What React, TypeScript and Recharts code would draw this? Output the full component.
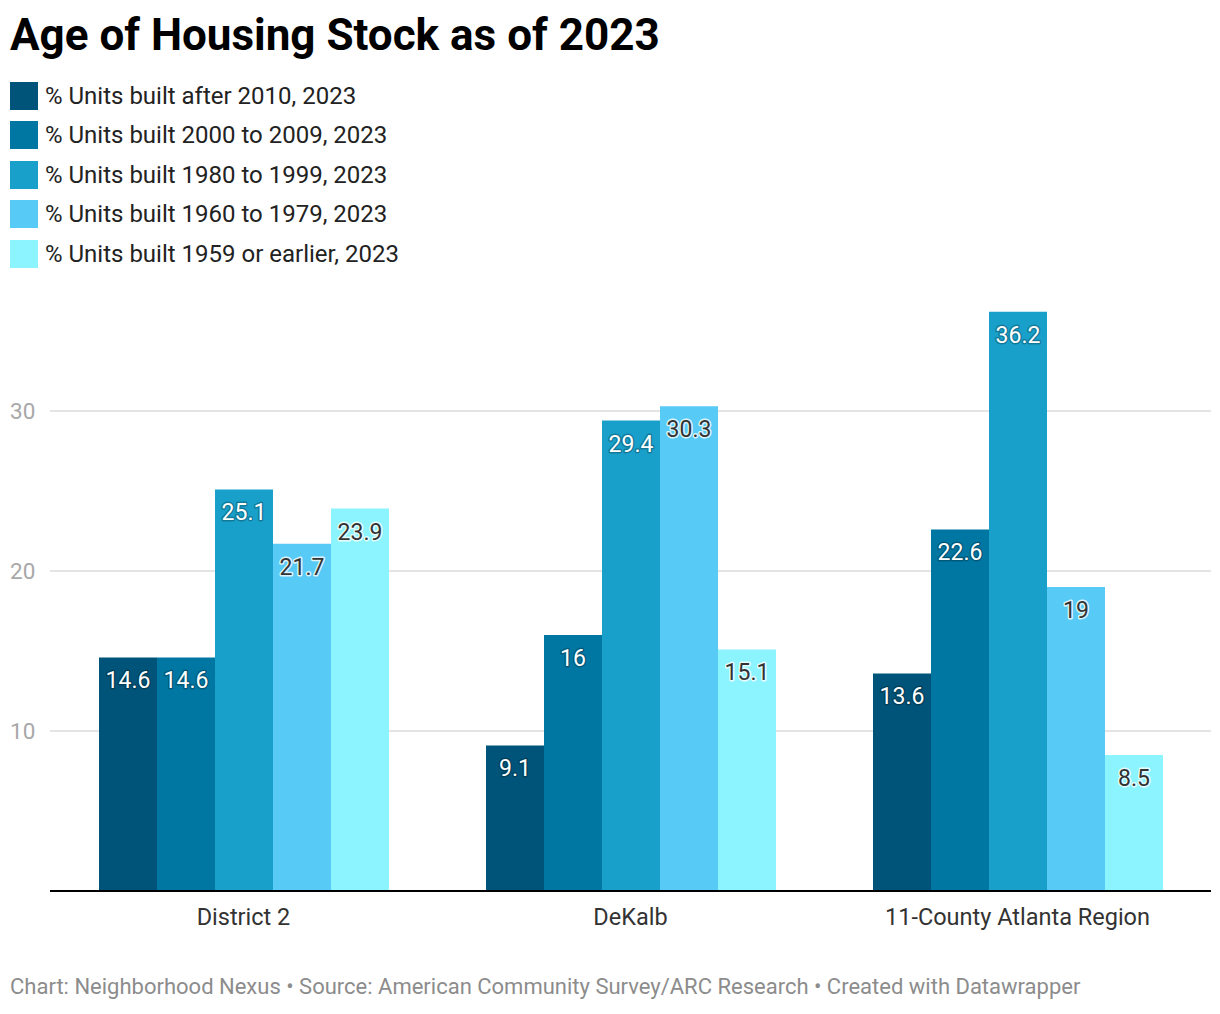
import { Bar, BarChart, CartesianGrid, LabelList, XAxis, YAxis } from 'recharts'

const regions = ['District 2', 'DeKalb', '11-County Atlanta Region']
const after2010 = [14.6, 9.1, 13.6]
const y2000to2009 = [14.6, 16, 22.6]
const y1980to1999 = [25.1, 29.4, 36.2]
const y1960to1979 = [21.7, 30.3, 19]
const y1959orEarlier = [23.9, 15.1, 8.5]
const yTicks = [10, 20, 30]

const series = [
  { key: 'a', name: '% Units built after 2010, 2023', values: after2010, color: '#005479', dark: true },
  { key: 'b', name: '% Units built 2000 to 2009, 2023', values: y2000to2009, color: '#0077a3', dark: true },
  { key: 'c', name: '% Units built 1980 to 1999, 2023', values: y1980to1999, color: '#18a0cb', dark: true },
  { key: 'd', name: '% Units built 1960 to 1979, 2023', values: y1960to1979, color: '#58caf6', dark: false },
  { key: 'e', name: '% Units built 1959 or earlier, 2023', values: y1959orEarlier, color: '#8bf4ff', dark: false },
]

const data = regions.map((r, i) => {
  const row: Record<string, string | number> = { region: r }
  series.forEach((s) => (row[s.key] = s.values[i]))
  return row
})

const FONT = 'Roboto, "Noto Sans", sans-serif'

// 柱顶内侧数值:深色柱白字,浅色柱深字
const makeLabel = (dark: boolean) => (p: any) => {
  const { x, y, width, value } = p
  return (
    <text
      x={x + width / 2}
      y={y + 31}
      textAnchor="middle"
      fontSize={23}
      fontFamily={FONT}
      fill={dark ? '#ffffff' : '#333333'}
      stroke={dark ? 'rgba(0,0,0,0.25)' : 'rgba(255,255,255,0.8)'}
      strokeWidth={3}
      paintOrder="stroke"
      strokeLinejoin="round"
    >
      {value}
    </text>
  )
}

const YTick = (p: any) => (
  <text x={10} y={p.y} dy={8} fontSize={22.5} fill="#a8a8a8" fontFamily={FONT}>
    {p.payload.value}
  </text>
)

export default function App() {
  return (
    <div style={{ position: 'absolute', left: 0, top: 0, width: 1220, height: 1014, background: '#fff', fontFamily: FONT }}>
      <div style={{ position: 'absolute', left: 10, top: 9, fontSize: 44, fontWeight: 700, color: '#000', lineHeight: '52px' }}>
        Age of Housing Stock as of 2023
      </div>
      <div style={{ position: 'absolute', left: 10, top: 76 }}>
        {series.map((s) => (
          <div key={s.key} style={{ display: 'flex', alignItems: 'center', height: 39.5 }}>
            <span style={{ width: 28, height: 28, background: s.color, display: 'inline-block', marginRight: 7 }} />
            <span style={{ fontSize: 24, color: '#222' }}>{s.name}</span>
          </div>
        ))}
      </div>
      <div style={{ position: 'absolute', top: 0, left: 0 }}>
        <BarChart
          width={1220}
          height={1014}
          data={data}
          margin={{ top: 299, right: 9, left: 0, bottom: 83 }}
          barSize={58}
          barGap={0}
        >
          <CartesianGrid vertical={false} stroke="#e4e4e4" strokeWidth={2} horizontalValues={yTicks} />
          <YAxis
            width={50}
            domain={[0, 37]}
            ticks={yTicks}
            axisLine={false}
            tickLine={false}
            tick={<YTick />}
          />
          <XAxis
            dataKey="region"
            height={40}
            axisLine={{ stroke: '#000', strokeWidth: 2 }}
            tickLine={false}
            tickMargin={11}
            tick={{ fontSize: 23.5, fill: '#333', fontFamily: FONT }}
          />
          {series.map((s) => (
            <Bar key={s.key} dataKey={s.key} name={s.name} fill={s.color} isAnimationActive={false}>
              <LabelList dataKey={s.key} content={makeLabel(s.dark)} />
            </Bar>
          ))}
        </BarChart>
      </div>
      <div style={{ position: 'absolute', left: 10, top: 974, fontSize: 22, color: '#8c8c8c' }}>
        Chart: Neighborhood Nexus • Source: American Community Survey/ARC Research • Created with Datawrapper
      </div>
    </div>
  )
}
